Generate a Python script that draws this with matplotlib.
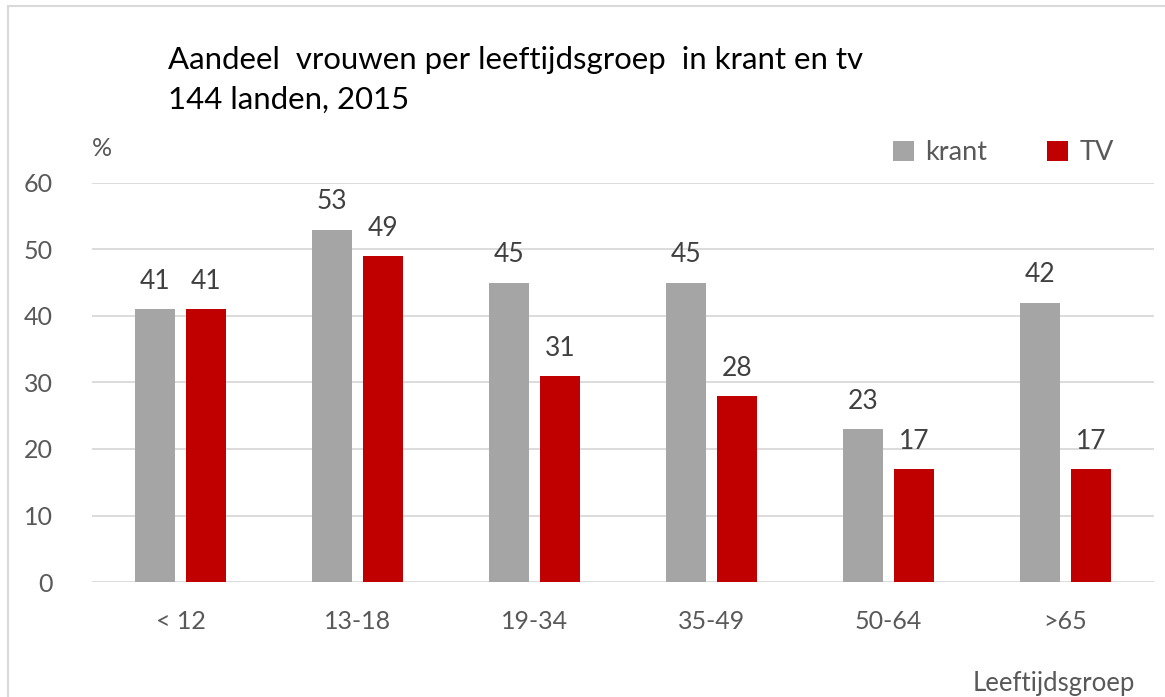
import numpy as np
import matplotlib
matplotlib.use('Agg')
import matplotlib.pyplot as plt
from matplotlib.patches import Rectangle

plt.rcParams['font.family'] = ['Lato', 'DejaVu Sans']

groepen = ['< 12', '13-18', '19-34', '35-49', '50-64', '>65']
krant = [41, 53, 45, 45, 23, 42]
tv = [41, 49, 31, 28, 17, 17]

grijs = '#A5A5A5'
rood = '#C00000'
tekst = '#595959'

fig = plt.figure(figsize=(11.65, 6.97), dpi=100)
ax = fig.add_axes([92 / 1165, 1 - 582 / 697, 1062 / 1165, 399 / 697])

x = np.arange(len(groepen))
w = 0.222
off = 0.144
b1 = ax.bar(x - off, krant, w, color=grijs, label='krant', zorder=3)
b2 = ax.bar(x + off, tv, w, color=rood, label='TV', zorder=3)

for bars, vals in ((b1, krant), (b2, tv)):
    for r, v in zip(bars, vals):
        ax.text(r.get_x() + r.get_width() / 2, v + 2.3, str(v), ha='center', va='bottom',
                fontsize=19, color='#404040')

ax.set_xlim(-0.5, len(groepen) - 0.5)
ax.set_ylim(0, 60)
ax.set_yticks(range(0, 61, 10))
ax.set_xticks(x)
ax.set_xticklabels(groepen)
ax.yaxis.grid(True, color='#D9D9D9', linewidth=1.3, zorder=0)
for s in ax.spines.values():
    s.set_visible(False)
ax.tick_params(length=0, labelsize=18, labelcolor=tekst)
ax.tick_params(axis='y', pad=28)
ax.tick_params(axis='x', pad=20)

fig.text(168 / 1165, 1 - 60 / 697, 'Aandeel  vrouwen per leeftijdsgroep  in krant en tv',
         fontsize=22.4, color='black', va='center', ha='left')
fig.text(168 / 1165, 1 - 100 / 697, '144 landen, 2015', fontsize=22.4, color='black',
         va='center', ha='left')
fig.text(92 / 1165, 1 - 148 / 697, '%', fontsize=18, color=tekst, va='center', ha='left')
fig.text(1135 / 1165, 1 - 684 / 697, 'Leeftijdsgroep', fontsize=18.5, color=tekst,
         va='center', ha='right')

leg = ax.legend(loc='upper right', bbox_to_anchor=(1138 / 1165, 1 - 116 / 697),
                bbox_transform=fig.transFigure, ncol=2, frameon=False, fontsize=19.5,
                handlelength=0.8, handleheight=0.8, columnspacing=2.2, handletextpad=0.4)
for t in leg.get_texts():
    t.set_color(tekst)

fig.patches.append(Rectangle((8 / 1165, -0.1), 1.2, 1 - 6 / 697 + 0.1, transform=fig.transFigure,
                             fill=False, edgecolor='#D9D9D9', linewidth=1.5))

fig.savefig('out.png', dpi=100)
